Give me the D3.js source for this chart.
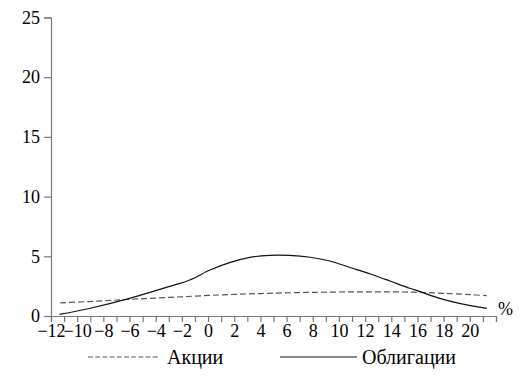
<!DOCTYPE html>
<html>
<head>
<meta charset="utf-8">
<script src="https://cdn.jsdelivr.net/npm/d3@7"></script>
</head>
<body style="margin:0;background:#fff">
<svg id="chart"></svg>
<script>
// returns, % (x) and frequency (y)
var stocksX = [-11.3, -8, -6, -4, -2, 0, 2, 4, 6, 8, 10, 12, 14, 16, 18, 20, 21.3];
var stocksY = [1.1, 1.27, 1.39, 1.5, 1.61, 1.72, 1.81, 1.88, 1.94, 1.98, 2.01, 2.02, 2.02, 1.98, 1.9, 1.79, 1.7];

var bondsX = [-11.35, -9, -6, -3, -1.4, 0.15, 1.7, 3.2, 4.7, 6.2, 7.8, 9.3, 10.8, 12.4, 13.9, 15.4, 16.2, 17.7, 19.2, 21.3];
var bondsY = [0.13, 0.65, 1.48, 2.46, 3.02, 3.85, 4.49, 4.91, 5.08, 5.07, 4.92, 4.61, 4.08, 3.52, 2.93, 2.32, 2.04, 1.48, 1.06, 0.64];

var yTicks = [0, 5, 10, 15, 20, 25];
var xLabels = [-12, -10, -8, -6, -4, -2, 0, 2, 4, 6, 8, 10, 12, 14, 16, 18, 20];
var legendLabels = ["Акции", "Облигации"];

var width = 523,
    height = 376,
    font = "'Liberation Serif'";

var svg = d3.select("#chart")
  .attr("width", width)
  .attr("height", height);

var x = d3.scaleLinear().domain([-12, 22]).range([51, 496]);
var y = d3.scaleLinear().domain([0, 25]).range([316, 17.5]);

var axisColor = "#777";

// y axis
var yAxis = svg.append("g")
  .attr("transform", "translate(" + x(-12) + ",0)")
  .call(d3.axisLeft(y).tickValues(yTicks).tickSize(7).tickPadding(4));

// x axis
var xAxis = svg.append("g")
  .attr("transform", "translate(0," + y(0) + ")")
  .call(d3.axisBottom(x).tickValues(d3.range(-12, 23)).tickSize(6).tickPadding(2)
    .tickFormat(function (d) { return xLabels.indexOf(d) >= 0 ? String(d).replace("-", "\u2212") : ""; }));

[yAxis, xAxis].forEach(function (g) {
  g.select(".domain").attr("stroke", axisColor).attr("stroke-width", 1.2);
  g.selectAll(".tick line").attr("stroke", axisColor).attr("stroke-width", 1.2);
  g.selectAll(".tick text")
    .attr("fill", "#000")
    .style("font-family", font)
    .style("font-size", "18px");
});

svg.append("text")
  .attr("x", 498)
  .attr("y", 315)
  .style("font-family", font)
  .style("font-size", "18px")
  .text("%");

var line = d3.line()
  .x(function (d) { return x(d[0]); })
  .y(function (d) { return y(d[1]); })
  .curve(d3.curveCatmullRom.alpha(0.5));

svg.append("path")
  .attr("class", "stocks")
  .attr("d", line(d3.zip(stocksX, stocksY)))
  .attr("fill", "none")
  .attr("stroke", "#555")
  .attr("stroke-width", 1.2)
  .attr("stroke-dasharray", "6,3");

svg.append("path")
  .attr("class", "bonds")
  .attr("d", line(d3.zip(bondsX, bondsY)))
  .attr("fill", "none")
  .attr("stroke", "#111")
  .attr("stroke-width", 1.2);

// legend
var legend = svg.append("g").attr("class", "legend");
var items = [
  { x1: 88, x2: 160, tx: 167, dash: "5,2.2", color: "#555" },
  { x1: 280, x2: 357, tx: 362, dash: null, color: "#111" }
];

items.forEach(function (it, i) {
  legend.append("line")
    .attr("x1", it.x1).attr("x2", it.x2)
    .attr("y1", 357).attr("y2", 357)
    .attr("stroke", it.color)
    .attr("stroke-width", 1.2)
    .attr("stroke-dasharray", it.dash);
  legend.append("text")
    .attr("x", it.tx)
    .attr("y", 363.5)
    .style("font-family", font)
    .style("font-size", "20px")
    .text(legendLabels[i]);
});
</script>
</body>
</html>
